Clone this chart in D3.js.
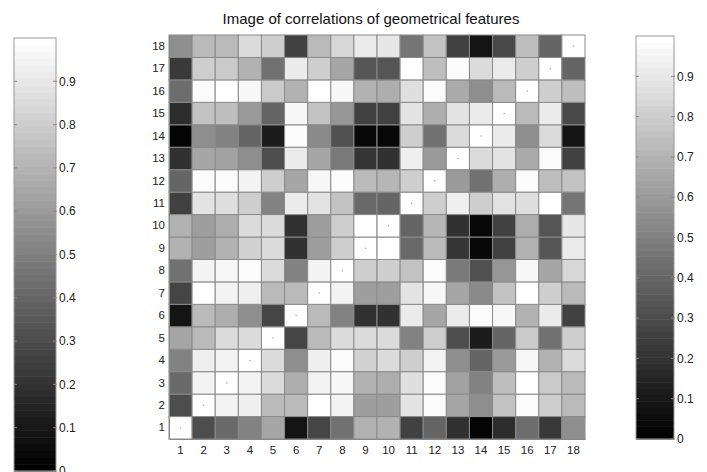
<!DOCTYPE html>
<html lang="en">
<head>
<meta charset="utf-8" />
<title>Image of correlations of geometrical features</title>
<script src="https://d3js.org/d3.v7.min.js"></script>
<style>
  body { margin: 0; background: #fff; }
  svg { display: block; font-family: "Liberation Sans", Arial, sans-serif; }
</style>
</head>
<body>
<script>
  // feature numbers (both axes)
  const features = [1, 2, 3, 4, 5, 6, 7, 8, 9, 10, 11, 12, 13, 14, 15, 16, 17, 18];
  const barTicks = [0, 0.1, 0.2, 0.3, 0.4, 0.5, 0.6, 0.7, 0.8, 0.9];
  const title = "Image of correlations of geometrical features";

  // correlation values, one array per row (row 1 = bottom), columns 1..18
  const row1  = [1.00, 0.30, 0.42, 0.50, 0.65, 0.08, 0.28, 0.45, 0.70, 0.70, 0.25, 0.40, 0.20, 0.02, 0.18, 0.43, 0.22, 0.55];
  const row2  = [0.30, 1.00, 0.95, 0.93, 0.72, 0.72, 1.00, 0.95, 0.62, 0.62, 0.88, 0.98, 0.65, 0.55, 0.75, 0.98, 0.80, 0.72];
  const row3  = [0.42, 0.95, 1.00, 0.94, 0.85, 0.68, 0.95, 0.96, 0.70, 0.68, 0.86, 0.98, 0.64, 0.50, 0.74, 0.99, 0.79, 0.73];
  const row4  = [0.50, 0.93, 0.94, 1.00, 0.85, 0.55, 0.93, 0.97, 0.82, 0.85, 0.80, 0.95, 0.55, 0.40, 0.60, 0.96, 0.70, 0.85];
  const row5  = [0.65, 0.72, 0.85, 0.85, 1.00, 0.28, 0.72, 0.85, 0.85, 0.85, 0.50, 0.80, 0.30, 0.12, 0.40, 0.79, 0.45, 0.80];
  const row6  = [0.08, 0.72, 0.68, 0.55, 0.28, 1.00, 0.72, 0.50, 0.20, 0.20, 0.91, 0.65, 0.91, 0.97, 0.96, 0.70, 0.92, 0.25];
  const row7  = [0.28, 1.00, 0.95, 0.93, 0.72, 0.72, 1.00, 0.94, 0.62, 0.62, 0.88, 0.96, 0.65, 0.54, 0.75, 0.99, 0.81, 0.72];
  const row8  = [0.45, 0.95, 0.96, 0.97, 0.85, 0.50, 0.94, 1.00, 0.80, 0.80, 0.75, 0.98, 0.48, 0.32, 0.58, 0.96, 0.65, 0.84];
  const row9  = [0.70, 0.62, 0.70, 0.82, 0.85, 0.20, 0.62, 0.80, 1.00, 1.00, 0.41, 0.72, 0.21, 0.04, 0.25, 0.69, 0.34, 0.91];
  const row10 = [0.70, 0.62, 0.68, 0.85, 0.85, 0.20, 0.62, 0.80, 1.00, 1.00, 0.40, 0.71, 0.20, 0.04, 0.25, 0.68, 0.33, 0.90];
  const row11 = [0.25, 0.88, 0.86, 0.80, 0.50, 0.91, 0.88, 0.75, 0.41, 0.40, 1.00, 0.80, 0.93, 0.80, 0.89, 0.86, 1.00, 0.46];
  const row12 = [0.40, 0.98, 0.98, 0.95, 0.80, 0.65, 0.96, 0.98, 0.72, 0.71, 0.80, 1.00, 0.60, 0.45, 0.68, 0.97, 0.74, 0.75];
  const row13 = [0.20, 0.65, 0.64, 0.55, 0.30, 0.91, 0.65, 0.48, 0.21, 0.20, 0.93, 0.60, 1.00, 0.85, 0.89, 0.67, 0.97, 0.25];
  const row14 = [0.02, 0.55, 0.50, 0.40, 0.12, 0.97, 0.54, 0.32, 0.04, 0.04, 0.80, 0.45, 0.85, 1.00, 0.92, 0.55, 0.85, 0.08];
  const row15 = [0.18, 0.75, 0.74, 0.60, 0.40, 0.96, 0.75, 0.58, 0.25, 0.25, 0.89, 0.68, 0.89, 0.92, 1.00, 0.73, 0.92, 0.29];
  const row16 = [0.43, 0.98, 0.99, 0.96, 0.79, 0.70, 0.99, 0.96, 0.69, 0.68, 0.86, 0.97, 0.67, 0.55, 0.73, 1.00, 0.80, 0.74];
  const row17 = [0.22, 0.80, 0.79, 0.70, 0.45, 0.92, 0.81, 0.65, 0.34, 0.33, 1.00, 0.74, 0.97, 0.85, 0.92, 0.80, 1.00, 0.40];
  const row18 = [0.55, 0.72, 0.73, 0.85, 0.80, 0.25, 0.72, 0.84, 0.91, 0.90, 0.46, 0.75, 0.25, 0.08, 0.29, 0.74, 0.40, 1.00];
  const rows = [row1, row2, row3, row4, row5, row6, row7, row8, row9, row10,
                row11, row12, row13, row14, row15, row16, row17, row18];

  const width = 707, height = 472;

  const svg = d3.select("body").append("svg")
      .attr("width", width)
      .attr("height", height);

  // matlab style gray colormap, 64 steps
  const levels = 64;
  const gray = v => {
      const k = Math.min(levels - 1, Math.floor(v * levels));
      const g = Math.round(k / (levels - 1) * 255);
      return d3.rgb(g, g, g).toString();
  };

  // flatten into cells
  const cells = [];
  rows.forEach((r, i) => r.forEach((v, j) => cells.push({ row: features[i], col: features[j], v: v })));

  const x = d3.scaleBand().domain(features).range([169, 585]);
  const y = d3.scaleBand().domain(features.slice().reverse()).range([35, 439]);

  svg.append("g").selectAll("rect")
      .data(cells)
      .join("rect")
      .attr("x", d => x(d.col))
      .attr("y", d => y(d.row))
      .attr("width", x.bandwidth())
      .attr("height", y.bandwidth())
      .attr("fill", d => gray(d.v))
      .attr("stroke", "#8a8a8a")
      .attr("stroke-width", 1);

  // little dots on the diagonal
  svg.append("g").selectAll("circle")
      .data(cells.filter(d => d.row === d.col))
      .join("circle")
      .attr("cx", d => x(d.col) + x.bandwidth() / 2)
      .attr("cy", d => y(d.row) + y.bandwidth() / 2)
      .attr("r", 0.8)
      .attr("fill", "#aaa");

  // axes
  const xAxis = svg.append("g")
      .attr("transform", "translate(0,439)")
      .call(d3.axisBottom(x).tickSize(0).tickPadding(7));
  const yAxis = svg.append("g")
      .attr("transform", "translate(169,0)")
      .call(d3.axisLeft(y).tickSize(0).tickPadding(4));
  [xAxis, yAxis].forEach(a => {
      a.select(".domain").attr("stroke", "#888");
      a.selectAll("text").attr("font-size", 11.5).attr("fill", "#222")
          .attr("font-family", "'Liberation Sans', Arial, sans-serif");
  });

  // title
  svg.append("text")
      .attr("x", 371)
      .attr("y", 24)
      .attr("text-anchor", "middle")
      .attr("font-size", 15)
      .attr("fill", "#111")
      .text(title);

  // colorbars
  function colorbar(x0, w, y0, y1) {
      const s = d3.scaleLinear().domain([0, 1]).range([y0, y1]);
      const g = svg.append("g");
      const steps = d3.range(levels).map(k => k / levels);
      g.selectAll("rect")
          .data(steps)
          .join("rect")
          .attr("x", x0)
          .attr("width", w)
          .attr("y", d => s(d + 1 / levels))
          .attr("height", d => s(d) - s(d + 1 / levels) + 0.5)
          .attr("fill", d => gray(d + 0.5 / levels));
      g.append("rect")
          .attr("x", x0).attr("y", s(1))
          .attr("width", w).attr("height", s(0) - s(1))
          .attr("fill", "none").attr("stroke", "#999");
      const t = g.selectAll(".tick").data(barTicks).join("g")
          .attr("transform", d => "translate(0," + s(d) + ")");
      t.append("line").attr("x1", x0).attr("x2", x0 + 3).attr("stroke", "#888");
      t.append("line").attr("x1", x0 + w - 3).attr("x2", x0 + w + 1).attr("stroke", "#888");
      t.append("text")
          .attr("x", x0 + w + 3)
          .attr("dy", "0.35em")
          .attr("font-size", 12)
          .attr("fill", "#222")
          .text(d => d3.format("")(d));
  }
  colorbar(14, 42, 471, 38);
  colorbar(636, 38, 439, 36);
</script>
</body>
</html>
